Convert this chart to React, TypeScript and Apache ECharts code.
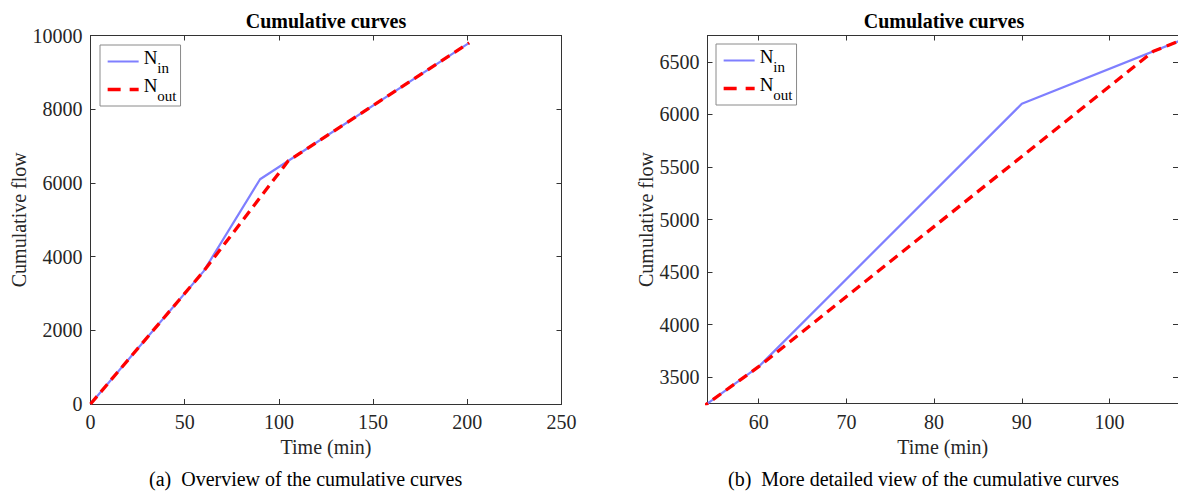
import React, { useEffect, useRef } from "react";
import * as echarts from "echarts";

// ---- data ----
const timeIn = [0, 60, 90, 201];
const flowIn = [0, 3600, 6100, 9800];
const timeOut = [0, 60, 105, 201];
const flowOut = [0, 3600, 6600, 9800];

const seriesNames = ["N_in", "N_out"];
const seriesSubs = ["in", "out"];

const xTicksB = [60, 70, 80, 90, 100];
const yTicksB = [3500, 4000, 4500, 5000, 5500, 6000, 6500];

const chartTitle = "Cumulative curves";
const xName = "Time (min)";
const yName = "Cumulative flow";
const captions = [
  "(a)  Overview of the cumulative curves",
  "(b)  More detailed view of the cumulative curves",
];

const FONT = "Liberation Serif";
const AXIS_COLOR = "#333333";
const TEXT_COLOR = "#262626";
const BLUE = "#7f7fff";
const RED = "#ff0000";

function zip(xs: number[], ys: number[]) {
  return xs.map((x, i) => [x, ys[i]]);
}

export default function App() {
  const ref = useRef<HTMLDivElement>(null);

  useEffect(() => {
    if (!ref.current) return;
    const chart = echarts.init(ref.current, undefined, { renderer: "svg" });

    const axisLine = { show: true, onZero: false, lineStyle: { color: AXIS_COLOR, width: 1 } };
    const tick = (extra: any = {}) => ({
      show: true,
      inside: true,
      length: 5,
      lineStyle: { color: AXIS_COLOR, width: 1 },
      ...extra,
    });
    const label = (extra: any = {}) => ({
      show: true,
      color: TEXT_COLOR,
      fontFamily: FONT,
      fontSize: 20,
      margin: 8,
      formatter: (v: number) => String(v),
      ...extra,
    });
    const nameStyle = { color: TEXT_COLOR, fontFamily: FONT, fontSize: 20 };

    const xAxis: any[] = [
      {
        type: "value", gridIndex: 0, position: "bottom", min: 0, max: 250, interval: 50,
        axisLine, axisTick: tick(), axisLabel: label({ showMinLabel: true, showMaxLabel: true }),
        splitLine: { show: false },
        name: xName, nameLocation: "middle", nameGap: 33, nameTextStyle: nameStyle,
      },
      {
        type: "value", gridIndex: 0, position: "top", min: 0, max: 250, interval: 50,
        axisLine, axisTick: tick(), axisLabel: { show: false }, splitLine: { show: false },
      },
      {
        type: "value", gridIndex: 1, position: "bottom", min: 54.17, max: 107.8,
        axisLine, axisTick: tick({ customValues: xTicksB }),
        axisLabel: label({ customValues: xTicksB }),
        splitLine: { show: false },
        name: xName, nameLocation: "middle", nameGap: 33, nameTextStyle: nameStyle,
      },
      {
        type: "value", gridIndex: 1, position: "top", min: 54.17, max: 107.8,
        axisLine, axisTick: tick({ customValues: xTicksB }), axisLabel: { show: false },
        splitLine: { show: false },
      },
    ];

    const yAxis: any[] = [
      {
        type: "value", gridIndex: 0, position: "left", min: 0, max: 10000, interval: 2000,
        axisLine, axisTick: tick(), axisLabel: label({ showMinLabel: true, showMaxLabel: true }),
        splitLine: { show: false },
        name: yName, nameLocation: "middle", nameGap: 62, nameTextStyle: nameStyle,
      },
      {
        type: "value", gridIndex: 0, position: "right", min: 0, max: 10000, interval: 2000,
        axisLine, axisTick: tick(), axisLabel: { show: false }, splitLine: { show: false },
      },
      {
        type: "value", gridIndex: 1, position: "left", min: 3250, max: 6750,
        axisLine, axisTick: tick({ customValues: yTicksB }),
        axisLabel: label({ customValues: yTicksB }),
        splitLine: { show: false },
        name: yName, nameLocation: "middle", nameGap: 52, nameTextStyle: nameStyle,
      },
      {
        type: "value", gridIndex: 1, position: "right", min: 3250, max: 6750,
        axisLine, axisTick: tick({ customValues: yTicksB }), axisLabel: { show: false },
        splitLine: { show: false },
      },
    ];

    const mkSeries = (gi: number) => [
      {
        name: seriesNames[0], type: "line", xAxisIndex: gi * 2, yAxisIndex: gi * 2,
        data: zip(timeIn, flowIn), symbol: "none", showSymbol: false, clip: true,
        lineStyle: { color: BLUE, width: 2.2 }, itemStyle: { color: BLUE }, z: 2,
      },
      {
        name: seriesNames[1], type: "line", xAxisIndex: gi * 2, yAxisIndex: gi * 2,
        data: zip(timeOut, flowOut), symbol: "none", showSymbol: false, clip: true,
        lineStyle: { color: RED, width: 3.3, type: [10, 6] }, itemStyle: { color: RED }, z: 3,
      },
    ];

    const mkLegend = (left: number, top: number) => ({
      show: true,
      orient: "vertical",
      left, top,
      data: [
        { name: seriesNames[0] },
        { name: seriesNames[1], lineStyle: { type: [13, 9], width: 3.3 } },
      ],
      itemWidth: 31,
      itemHeight: 27,
      itemGap: 1,
      padding: [3, 4, 3, 6],
      borderColor: "#8a8a8a",
      borderWidth: 1,
      backgroundColor: "#ffffff",
      selectedMode: false,
      itemStyle: { opacity: 0, borderWidth: 0 },
      formatter: (name: string) => `{n|N}{s|${seriesSubs[seriesNames.indexOf(name)]}}`,
      textStyle: {
        color: "#000",
        fontFamily: FONT,
        rich: {
          n: { fontSize: 19, fontFamily: FONT, color: "#000", lineHeight: 27, verticalAlign: "top" },
          s: { fontSize: 15, fontFamily: FONT, color: "#000", lineHeight: 27, verticalAlign: "bottom" },
        },
      },
    });

    const textEl = (text: string, x: number, y: number, fontSize: number, fontWeight: string, align: string) => ({
      type: "text",
      x, y,
      silent: true,
      style: {
        text, fontFamily: FONT, fontSize, fontWeight, fill: "#000",
        textAlign: align, textVerticalAlign: "middle",
      },
    });

    chart.setOption({
      animation: false,
      backgroundColor: "#ffffff",
      grid: [
        { left: 90.5, top: 35.5, width: 471, height: 368.5, containLabel: false },
        { left: 707.5, top: 35.5, width: 473.5, height: 368, containLabel: false },
      ],
      xAxis,
      yAxis,
      legend: [mkLegend(100, 45), mkLegend(716, 44)],
      series: [...mkSeries(0), ...mkSeries(1)],
      graphic: [
        textEl(chartTitle, 326, 21, 20, "bold", "center"),
        textEl(chartTitle, 944, 21, 20, "bold", "center"),
        textEl(captions[0], 149, 479, 20, "normal", "left"),
        textEl(captions[1], 728, 479, 20, "normal", "left"),
      ],
    });

    return () => chart.dispose();
  }, []);

  return (
    <div
      ref={ref}
      style={{ position: "absolute", left: 0, top: 0, width: 1178, height: 493, overflow: "hidden" }}
    />
  );
}
